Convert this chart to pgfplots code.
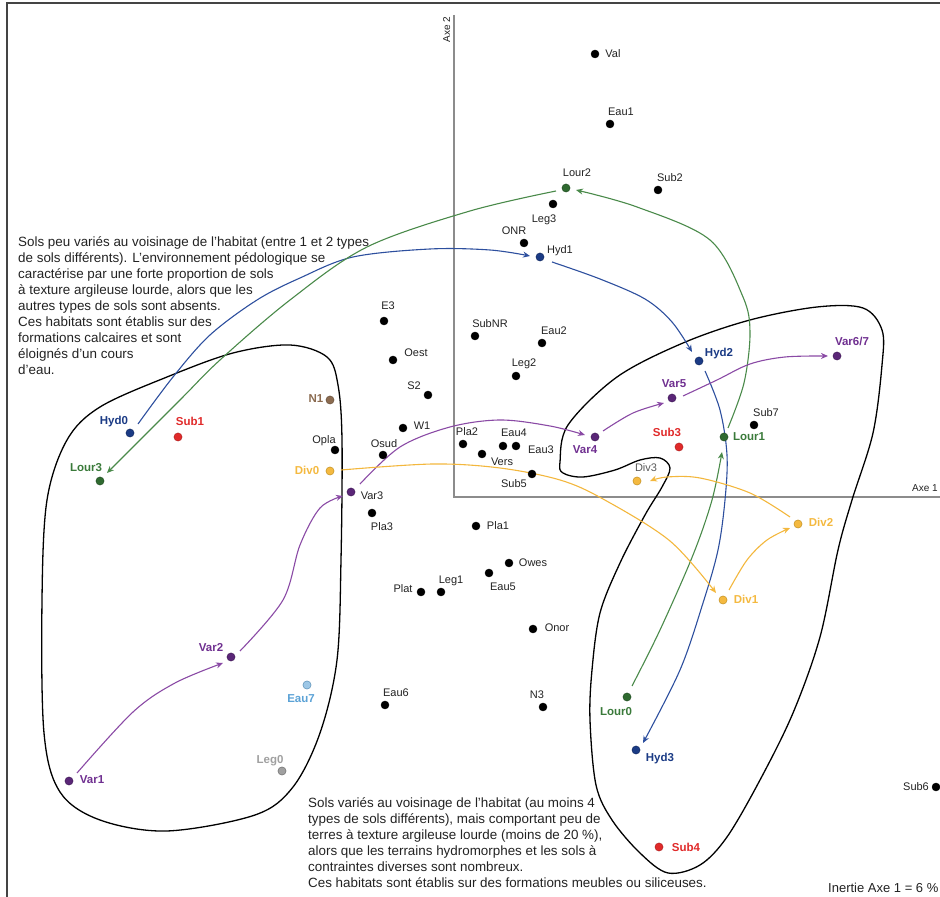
\documentclass[border=0pt]{standalone}
\usepackage{fontspec}
\setmainfont{Liberation Sans}
\usepackage{pgfplots}
\pgfplotsset{compat=1.18}
\usetikzlibrary{arrows.meta}

\definecolor{navyD}{HTML}{1B3B85}
\definecolor{navyA}{HTML}{2D4F9E}
\definecolor{greenD}{HTML}{2F6A30}
\definecolor{greenA}{HTML}{4A8A4A}
\definecolor{greenL}{HTML}{3A7A3A}
\definecolor{purpD}{HTML}{5A2677}
\definecolor{purpA}{HTML}{8A4AA5}
\definecolor{purpL}{HTML}{6F2F90}
\definecolor{orangeF}{HTML}{F4B940}
\definecolor{orangeD}{HTML}{B8861A}
\definecolor{orangeA}{HTML}{F3B73D}
\definecolor{redD}{HTML}{E02A2A}
\definecolor{brownD}{HTML}{8B6B50}
\definecolor{lblue}{HTML}{5BA2D6}
\definecolor{grayP}{HTML}{A0A0A0}
\definecolor{txt}{HTML}{222222}
\definecolor{axegray}{HTML}{8C8C8C}
\definecolor{frame}{HTML}{444444}

% labels: dx, dy = offset of the label centre from its point (pt)
\pgfplotsset{
  pts/.style={only marks, mark=*, nodes near coords, point meta=explicit symbolic,
    visualization depends on={value \thisrow{dx}\as\dx},
    visualization depends on={value \thisrow{dy}\as\dy},
    every node near coord/.append style={anchor=center, xshift=\dx pt, yshift=\dy pt,
      inner sep=0pt, text height=7.9pt, text depth=0pt,
      font=\fontsize{11}{13}\selectfont, text=txt}},
  bigpt/.style={mark size=4.1pt, mark options={line width=0.9pt}},
  boldlbl/.style={every node near coord/.append style={font=\fontsize{11.5}{13}\selectfont\bfseries, text=#1}},
  arr/.style={#1, line width=1.1pt, smooth, tension=0.55, -{Stealth[length=7pt,width=6pt]}},
}

\begin{document}
\begin{tikzpicture}
\begin{axis}[
  x=100pt, y=100pt,
  xmin=-4.54, xmax=4.86, ymin=-4.00, ymax=4.97,
  hide axis, clip=false,
]
% frame and axes
\draw[frame, line width=1.2pt] (axis cs:-4.47,-4.00) -- (axis cs:-4.47,4.94) -- (axis cs:4.86,4.94);
\draw[axegray, line width=1.5pt] (axis cs:0,4.82) -- (axis cs:0,0) -- (axis cs:4.86,0);
\node[rotate=90, anchor=south east, inner sep=1.5pt, font=\fontsize{10}{12}\selectfont, text=txt] at (axis cs:-0.02,4.82) {Axe 2};
\node[anchor=base east, inner sep=1pt, font=\fontsize{10}{12}\selectfont, text=txt] at (axis cs:4.85,0.05) {Axe 1};

% groups
\draw[black, line width=1.3pt] plot[smooth cycle, tension=0.55] coordinates {
  (-1.64,1.52) (-1.27,1.40) (-1.16,1.12) (-1.12,0.57) (-1.13,-0.63) (-1.17,-1.63)
  (-1.34,-2.36) (-1.61,-2.90) (-1.99,-3.18) (-2.87,-3.34) (-3.54,-3.23) (-3.94,-2.95)
  (-4.10,-2.36) (-4.12,-1.03) (-4.07,-0.03) (-3.87,0.57) (-3.54,0.90) (-2.87,1.20) (-2.21,1.44)};
\draw[black, line width=1.3pt] plot[smooth cycle, tension=0.55] coordinates {
  (1.06,0.35) (1.14,0.72) (1.63,1.20) (2.29,1.54) (2.96,1.77) (3.63,1.90) (4.09,1.89)
  (4.28,1.67) (4.28,1.32) (4.19,0.64) (3.98,-0.03) (3.84,-0.53) (3.66,-1.40) (3.39,-2.16)
  (3.06,-2.83) (2.73,-3.40) (2.46,-3.68) (2.14,-3.76) (1.86,-3.56) (1.58,-3.23) (1.42,-2.88)
  (1.36,-2.23) (1.38,-1.73) (1.46,-1.16) (1.66,-0.66) (1.91,-0.18) (2.08,0.10) (2.16,0.29)
  (2.06,0.39) (1.86,0.37) (1.61,0.27) (1.29,0.20) (1.09,0.24)};

% trajectories
\addplot[arr=navyA] coordinates {(-3.16,0.73) (-2.81,1.20) (-2.44,1.62) (-1.97,1.97) (-1.54,2.19) (-1.01,2.40) (-0.24,2.48) (0.36,2.47) (0.76,2.41)};
\addplot[arr=navyA] coordinates {(0.98,2.35) (1.46,2.18) (1.91,1.98) (2.18,1.75) (2.38,1.45)};
\addplot[arr=navyA] coordinates {(2.51,1.26) (2.66,0.87) (2.73,0.42) (2.71,-0.03) (2.64,-0.53) (2.49,-1.06) (2.26,-1.73) (1.89,-2.46)};
\addplot[arr=greenA] coordinates {(1.02,3.06) (0.16,2.86) (-0.87,2.50) (-1.64,1.97) (-2.34,1.37) (-2.74,0.97) (-3.47,0.24)};
\addplot[arr=greenA] coordinates {(1.78,-1.89) (2.06,-1.33) (2.39,-0.58) (2.58,-0.03) (2.68,0.45)};
\addplot[arr=greenA] coordinates {(2.74,0.69) (2.90,1.14) (2.96,1.64) (2.89,2.00) (2.56,2.57) (1.83,2.90) (1.22,3.07)};
\addplot[arr=purpA] coordinates {(-3.77,-2.76) (-3.21,-2.15) (-2.79,-1.86) (-2.31,-1.66)};
\addplot[arr=purpA] coordinates {(-2.14,-1.54) (-1.71,-1.03) (-1.54,-0.48) (-1.34,-0.11) (-1.11,0.01)};
\addplot[arr=purpA] coordinates {(-0.94,0.13) (-0.54,0.50) (-0.04,0.70) (0.46,0.77) (0.96,0.71) (1.31,0.62)};
\addplot[arr=purpA] coordinates {(1.49,0.66) (1.79,0.84) (2.10,0.94)};
\addplot[arr=purpA] coordinates {(2.29,1.01) (2.63,1.17) (2.96,1.33) (3.31,1.40) (3.74,1.41)};
\addplot[arr=orangeA] coordinates {(-1.13,0.27) (-0.21,0.33) (0.46,0.29) (1.06,0.17) (1.49,-0.02) (2.16,-0.44) (2.62,-0.96)};
\addplot[arr=orangeA] coordinates {(2.75,-0.93) (2.93,-0.63) (3.13,-0.43) (3.36,-0.31)};
\addplot[arr=orangeA] coordinates {(3.36,-0.20) (2.96,0.04) (2.46,0.19) (2.13,0.20) (1.96,0.16)};

% points (Axe 1, Axe 2)
\addplot[pts, mark size=4.0pt, black] table[col sep=comma, x=x, y=y, meta=lab] {
x,y,lab,dx,dy
1.41,4.43,Val,18,0
1.56,3.73,Eau1,11,12
2.04,3.07,Sub2,12,12
0.99,2.93,Leg3,-9,-15
0.70,2.54,ONR,-10,12
-0.70,1.76,E3,4,15
0.21,1.61,SubNR,15,12
0.88,1.54,Eau2,12,12
-0.61,1.37,Oest,23,7
0.62,1.21,Leg2,8,13
-0.26,1.02,S2,-14,9
-0.51,0.69,W1,19,2
0.09,0.53,Pla2,4,12
0.49,0.51,Eau4,11,13
0.62,0.51,Eau3,25,-4
0.28,0.43,Vers,20,-8
-1.19,0.47,Opla,-11,10
-0.71,0.42,Osud,1,11
0.78,0.23,Sub5,-18,-10
3.00,0.72,Sub7,12,12
-0.82,-0.16,Pla3,10,-14
0.22,-0.29,Pla1,22,0
0.55,-0.66,Owes,24,0
0.35,-0.76,Eau5,14,-14
-0.33,-0.95,Plat,-18,3
-0.13,-0.95,Leg1,10,12
0.79,-1.32,Onor,24,1
-0.69,-2.08,Eau6,11,12
0.89,-2.10,N3,-6,12
4.82,-2.90,Sub6,-20,0
};
\addplot[pts, bigpt, mark options={fill=navyD, draw=navyD!70!black}, boldlbl=navyD] table[col sep=comma, x=x, y=y, meta=lab] {
x,y,lab,dx,dy
-3.24,0.64,Hyd0,-16,12
2.45,1.36,Hyd2,20,8
1.82,-2.53,Hyd3,24,-8
};
\addplot[pts, bigpt, mark options={fill=navyD, draw=navyD!70!black}] table[col sep=comma, x=x, y=y, meta=lab] {
x,y,lab,dx,dy
0.86,2.40,Hyd1,20,7
};
\addplot[pts, bigpt, mark options={fill=greenD, draw=greenD!70!black}, boldlbl=greenL] table[col sep=comma, x=x, y=y, meta=lab] {
x,y,lab,dx,dy
1.73,-2.00,Lour0,-11,-15
2.70,0.60,Lour1,25,0
-3.54,0.16,Lour3,-14,13
};
\addplot[pts, bigpt, mark options={fill=greenD, draw=greenD!70!black}] table[col sep=comma, x=x, y=y, meta=lab] {
x,y,lab,dx,dy
1.12,3.09,Lour2,11,15
};
\addplot[pts, bigpt, mark options={fill=purpD, draw=purpD!70!black}, boldlbl=purpL] table[col sep=comma, x=x, y=y, meta=lab] {
x,y,lab,dx,dy
-3.85,-2.84,Var1,23,1
-2.23,-1.60,Var2,-20,9
1.41,0.60,Var4,-10,-13
2.18,0.99,Var5,2,14
3.83,1.41,Var6/7,15,14
};
\addplot[pts, bigpt, mark options={fill=purpD, draw=purpD!70!black}] table[col sep=comma, x=x, y=y, meta=lab] {
x,y,lab,dx,dy
-1.03,0.05,Var3,21,-4
};
\addplot[pts, bigpt, mark options={fill=orangeF, draw=orangeD}, boldlbl=orangeF] table[col sep=comma, x=x, y=y, meta=lab] {
x,y,lab,dx,dy
-1.24,0.26,Div0,-23,0
2.69,-1.03,Div1,23,0
3.44,-0.27,Div2,23,1
};
\addplot[pts, bigpt, mark options={fill=orangeF, draw=orangeD}, every node near coord/.append style={text=black!65}] table[col sep=comma, x=x, y=y, meta=lab] {
x,y,lab,dx,dy
1.83,0.16,Div3,9,13
};
\addplot[pts, bigpt, mark options={fill=redD, draw=redD!75!black}, boldlbl=redD] table[col sep=comma, x=x, y=y, meta=lab] {
x,y,lab,dx,dy
-2.76,0.60,Sub1,12,15
2.25,0.50,Sub3,-12,14
2.05,-3.50,Sub4,27,-1
};
\addplot[pts, bigpt, mark options={fill=brownD, draw=brownD!70!black}, boldlbl=brownD] table[col sep=comma, x=x, y=y, meta=lab] {
x,y,lab,dx,dy
-1.24,0.97,N1,-14,1
};
\addplot[pts, bigpt, mark options={fill=lblue!60, draw=lblue!80!black}, boldlbl=lblue] table[col sep=comma, x=x, y=y, meta=lab] {
x,y,lab,dx,dy
-1.47,-1.88,Eau7,-6,-14
};
\addplot[pts, bigpt, mark options={fill=grayP, draw=grayP!60!black}, boldlbl=grayP] table[col sep=comma, x=x, y=y, meta=lab] {
x,y,lab,dx,dy
-1.72,-2.74,Leg0,-12,11
};

% commentaries
\node[anchor=north west, align=left, inner sep=0pt, font=\fontsize{13.4}{16.1}\selectfont, text=txt] at (axis cs:-4.36,2.61)
 {Sols peu variés au voisinage de l'habitat (entre 1 et 2 types\\
  de sols différents). L'environnement pédologique se\\
  caractérise par une forte proportion de sols\\
  à texture argileuse lourde, alors que les\\
  autres types de sols sont absents.\\
  Ces habitats sont établis sur des\\
  formations calcaires et sont\\
  éloignés d'un cours\\
  d'eau.};
\node[anchor=north west, align=left, inner sep=0pt, font=\fontsize{13.4}{16.1}\selectfont, text=txt] at (axis cs:-1.46,-3.00)
 {Sols variés au voisinage de l'habitat (au moins 4\\
  types de sols différents), mais comportant peu de\\
  terres à texture argileuse lourde (moins de 20 \%),\\
  alors que les terrains hydromorphes et les sols à\\
  contraintes diverses sont nombreux.\\
  Ces habitats sont établis sur des formations meubles ou siliceuses.};
\node[anchor=base west, inner sep=0pt, font=\fontsize{13}{15}\selectfont, text=txt] at (axis cs:3.74,-3.96) {Inertie Axe 1 = 6 \%};
\end{axis}
\pgfresetboundingbox
\path (current axis.south west) rectangle (current axis.north east);
\end{tikzpicture}
\end{document}
